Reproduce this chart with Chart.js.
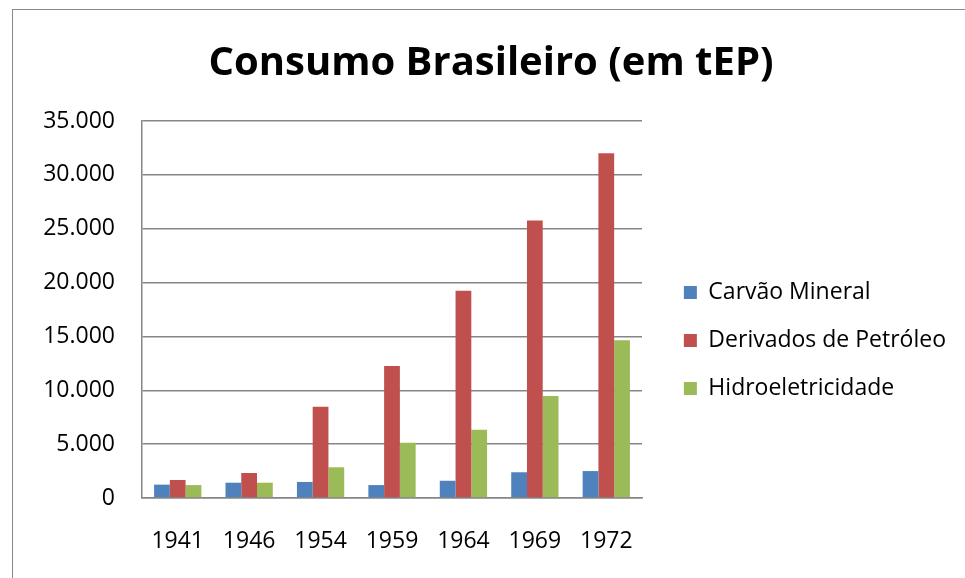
<!DOCTYPE html>
<html>
<head>
<meta charset="utf-8">
<script src="https://cdn.jsdelivr.net/npm/chart.js@4.4.1/dist/chart.umd.min.js"></script>
<style>
  body { margin: 0; background: #fff; }
  #frame { position: absolute; left: 12px; top: 9px; width: 970px; height: 600px; border: 1px solid #8a8a8a; }
  #wrap { position: absolute; left: 0; top: 0; width: 965px; height: 578px; }
</style>
</head>
<body>
<div id="frame"></div>
<div id="wrap"><canvas id="myBarChart" width="965" height="578"></canvas></div>
<script>
// dados
const anos = ['1941', '1946', '1954', '1959', '1964', '1969', '1972'];
const carvaoMineral = [1240, 1420, 1490, 1200, 1600, 2390, 2500];
const derivadosPetroleo = [1670, 2320, 8480, 12260, 19240, 25770, 32000];
const hidroeletricidade = [1200, 1420, 2850, 5130, 6340, 9470, 14640];
const yMax = 35000;
const yStep = 5000;

const fonte = '"Open Sans", sans-serif';

const ctx = document.getElementById("myBarChart").getContext("2d");
new Chart(ctx, {
  type: 'bar',
  data: {
    labels: anos,
    datasets: [
      { label: 'Carvão Mineral', data: carvaoMineral, backgroundColor: '#4F81BD' },
      { label: 'Derivados de Petróleo', data: derivadosPetroleo, backgroundColor: '#C0504D' },
      { label: 'Hidroeletricidade', data: hidroeletricidade, backgroundColor: '#9BBB59' }
    ]
  },
  options: {
    responsive: false,
    animation: false,
    datasets: {
      bar: { categoryPercentage: 0.662, barPercentage: 1 }
    },
    layout: { padding: { left: 26, right: 9, top: 0, bottom: 21 } },
    plugins: {
      title: {
        display: true,
        text: 'Consumo Brasileiro (em tEP)',
        color: '#000',
        font: { family: fonte, size: 40, weight: 'bold' },
        padding: { top: 40, bottom: 33 }
      },
      legend: {
        position: 'right',
        maxWidth: 330,
        // titulo vazio: so empurra os itens para baixo
        title: { display: true, text: ' ', font: { size: 10 }, padding: { top: 56, bottom: 56 } },
        labels: {
          color: '#000',
          font: { family: fonte, size: 23 },
          boxWidth: 13,
          boxHeight: 13,
          padding: 25
        }
      },
      tooltip: { enabled: false }
    },
    scales: {
      x: {
        grid: { display: false },
        border: { color: '#868686', width: 1.5 },
        ticks: { color: '#000', font: { family: fonte, size: 23 }, padding: 22, maxRotation: 0 },
        afterFit: (s) => { s.height = 59 }
      },
      y: {
        min: 0,
        max: yMax,
        grid: { color: '#868686', lineWidth: 1.5, drawTicks: false },
        border: { color: '#868686', width: 1.5 },
        ticks: {
          stepSize: yStep,
          color: '#000',
          padding: 27,
          font: { family: fonte, size: 23 },
          callback: (v) => v.toLocaleString('pt-BR')
        },
        afterFit: (s) => { s.width = 116 }
      },
      // eixo vazio só para afastar a legenda
      y2: {
        position: 'right',
        display: true,
        grid: { display: false },
        border: { display: false },
        ticks: { display: false },
        afterFit: (s) => { s.width = Math.max(0, 314 - s.chart.legend.width) }
      }
    }
  }
});
</script>
</body>
</html>
